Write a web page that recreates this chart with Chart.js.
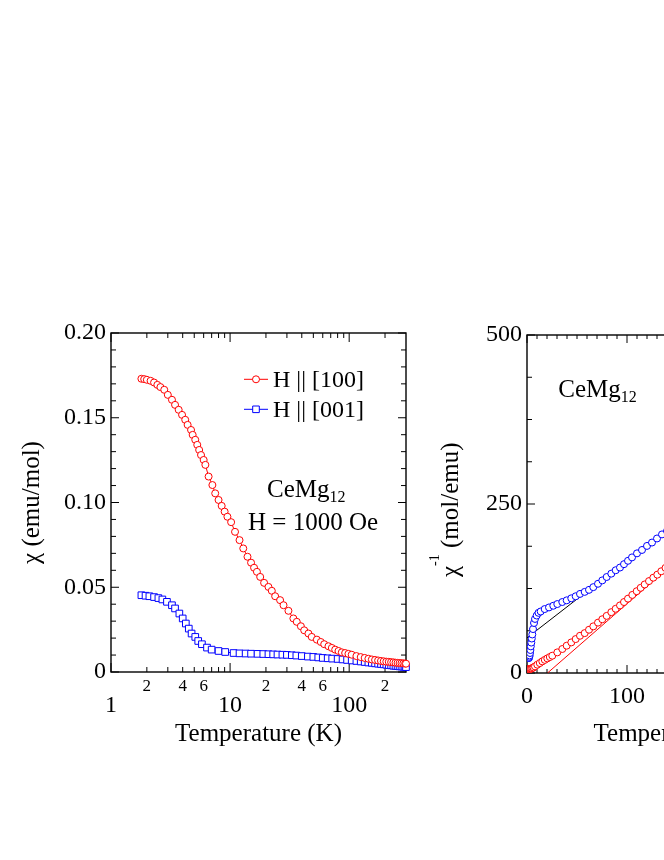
<!DOCTYPE html>
<html>
<head>
<meta charset="utf-8">
<script src="https://cdn.jsdelivr.net/npm/chart.js@4.4.1/dist/chart.umd.min.js"></script>
<style>
  html, body { margin: 0; padding: 0; background: #fff; }
  #page { position: relative; width: 664px; height: 860px; overflow: hidden; }
  #left { position: absolute; left: 0; top: 300px; }
  #right { position: absolute; left: 420px; top: 300px; }
</style>
</head>
<body>
<div id="page">
  <canvas id="left" width="420" height="460"></canvas>
  <canvas id="right" width="460" height="460"></canvas>
</div>
<script>
const serif = '"Liberation Serif", "Times New Roman", serif';
Chart.defaults.font.family = serif;
Chart.defaults.color = "#000";

// left panel: chi (emu/mol) vs T (K), log T
const tempA = [1.8, 1.9, 2.0, 2.15, 2.3, 2.45, 2.6, 2.8, 3.0, 3.25,
  3.45, 3.7, 3.95, 4.2, 4.4, 4.7, 4.85, 5.1, 5.3, 5.5,
  5.7, 6.0, 6.2, 6.6, 7.1, 7.5, 8.0, 8.5, 9.0, 9.5,
  10.2, 11, 12, 12.9, 14, 15, 15.9, 16.8, 17.9, 19.3,
  21, 22.4, 23.9, 26.3, 28.1, 30.9, 34, 36.3, 39.3, 41.9,
  45.5, 48.5, 53.5, 57.8, 61.7, 67, 71.5, 76.3, 81.3, 86.7,
  92.5, 98.6, 105, 115, 125, 135, 145, 155, 165, 175,
  185, 195, 205, 215, 225, 235, 245, 255, 265, 275,
  285, 295, 300];
const chiA = [0.173, 0.1728, 0.1724, 0.1718, 0.1708, 0.1694, 0.1681, 0.1665, 0.1635, 0.1606,
  0.1576, 0.1547, 0.1517, 0.1488, 0.1458, 0.1428, 0.1399, 0.137, 0.134, 0.131,
  0.128, 0.1251, 0.1222, 0.1153, 0.1103, 0.1054, 0.1015, 0.098, 0.0946, 0.0916,
  0.0884, 0.0827, 0.0778, 0.0729, 0.068, 0.0645, 0.0615, 0.0591, 0.0561, 0.0526,
  0.0502, 0.0479, 0.0447, 0.0424, 0.0394, 0.0361, 0.0316, 0.0296, 0.027, 0.0246,
  0.0227, 0.0207, 0.0191, 0.0177, 0.0164, 0.0152, 0.0142, 0.0132, 0.0124, 0.0116,
  0.0112, 0.0107, 0.0102, 0.0094, 0.0088, 0.0083, 0.0078, 0.0074, 0.0071, 0.0068,
  0.0065, 0.0063, 0.0061, 0.0060, 0.0058, 0.0057, 0.0055, 0.0054, 0.0053, 0.0052,
  0.0051, 0.0050, 0.0049];

const tempB = [1.8, 1.95, 2.1, 2.3, 2.5, 2.7, 2.95, 3.25, 3.45, 3.75,
  4.0, 4.25, 4.5, 4.75, 5.1, 5.4, 5.8, 6.4, 7.0, 8.0,
  9.1, 10.7, 12, 13.5, 15, 17, 19, 21, 23, 25,
  27.5, 30, 33, 36, 40, 45, 50, 55, 60, 66,
  72, 80, 88, 96, 105, 115, 125, 135, 145, 155,
  165, 175, 185, 195, 205, 215, 225, 235, 245, 255,
  265, 275, 285, 295, 300];
const chiB = [0.0453, 0.0450, 0.0447, 0.0442, 0.0436, 0.0428, 0.0414, 0.0394, 0.0375, 0.0345,
  0.0316, 0.0286, 0.0256, 0.0227, 0.0207, 0.0183, 0.0164, 0.0144, 0.0132, 0.0124,
  0.0118, 0.0112, 0.0110, 0.0109, 0.0108, 0.0107, 0.0106, 0.0105, 0.0104, 0.0103,
  0.0102, 0.0101, 0.0099, 0.0097, 0.0094, 0.0091, 0.0089, 0.0086, 0.0083, 0.0081,
  0.0079, 0.0077, 0.0074, 0.0071, 0.0068, 0.0065, 0.0062, 0.0059, 0.0056, 0.0054,
  0.0051, 0.0049, 0.0047, 0.0045, 0.0043, 0.0041, 0.0039, 0.0037, 0.0036, 0.0035,
  0.0033, 0.0032, 0.0031, 0.0030, 0.0029];

// right panel: 1/chi (mol/emu) vs T (K)
const tempInvA = [1.8, 2.5, 3.3, 4.2, 5.3, 6.5, 8.0, 10.3, 12.8, 15.3,
  17.8, 20.3, 22.8, 25.3, 30.3, 35.3, 39.7, 44.3, 48.7, 53,
  57.7, 62, 66.3, 71, 75.3, 79.7, 84.3, 88.7, 93, 97,
  101, 105.3, 109.7, 113.7, 117.7, 122, 126.3, 130.3, 134.3, 138.5,
  143];
const invA = [5.8, 5.9, 6.1, 6.5, 7.3, 8.2, 9.8, 12.3, 14.7, 17.2,
  19.4, 21.6, 23.6, 25.6, 30.5, 35.5, 40.4, 45.3, 50.2, 55.1,
  59, 64, 69, 74.5, 79.5, 84.5, 90, 95, 100, 105,
  110, 115.5, 121, 126, 131, 136, 141, 145.5, 150.5, 155.5,
  161];

const tempInvB = [1.8, 2.0, 2.3, 2.6, 3.0, 3.4, 3.8, 4.3, 4.8, 5.3,
  6.0, 7.0, 8.0, 9.7, 11.5, 13.7, 17.7, 22, 26.3, 30.3,
  35.3, 39.7, 44.3, 48.7, 53, 57.7, 62, 66.3, 71, 75.3,
  79.7, 84.3, 88.7, 93, 97, 101, 105, 110, 115, 120,
  125, 130, 135, 140, 145];
const invB = [22, 22.5, 24, 26, 29.6, 34, 39.4, 45, 51, 57,
  65, 74, 80, 85, 89, 91, 94.6, 97, 99.5, 102,
  105, 107.5, 110.5, 113.5, 117, 120, 123, 127, 132, 137,
  142, 147, 152, 156, 161, 166, 171, 177, 182, 188,
  193, 199, 205, 210, 216];

// Curie-Weiss fit lines
const fitTempA = [20.5, 300];
const fitInvA = [0, 360];
const fitTempB = [0, 300];
const fitInvB = [52, 396];

const seriesNames = ["H || [100]", "H || [001]"];
const chiTicks = [0, 0.05, 0.1, 0.15, 0.2];
const tempMajor = [1, 10, 100];
const tempMinorLabels = [2, 4, 6, 20, 40, 60, 200];
const invTicks = [0, 250, 500];
const linTempTicks = [0, 100, 200, 300];

const red = "#ff0000";
const blue = "#0000ff";

const pts = (xs, ys) => xs.map((x, i) => ({ x: x, y: ys[i] }));

// 20 -> "2", 200 -> "2"
const mantissa = (v) => String(Math.round(v / Math.pow(10, Math.floor(Math.log10(v) + 1e-9))));

function frame(chart, xMarks, yMarks) {
  const { ctx, chartArea: a } = chart;
  const xs = chart.scales.x;
  const ys = chart.scales.y;
  ctx.save();
  ctx.strokeStyle = "#000";
  ctx.lineWidth = 1;
  ctx.beginPath();
  xMarks.forEach(([v, len]) => {
    const px = xs.getPixelForValue(v);
    ctx.moveTo(px, a.bottom);
    ctx.lineTo(px, a.bottom - len);
    ctx.moveTo(px, a.top);
    ctx.lineTo(px, a.top + len);
  });
  yMarks.forEach(([v, len]) => {
    const py = ys.getPixelForValue(v);
    ctx.moveTo(a.left, py);
    ctx.lineTo(a.left + len, py);
    ctx.moveTo(a.right, py);
    ctx.lineTo(a.right - len, py);
  });
  ctx.stroke();
  ctx.lineWidth = 1.4;
  ctx.strokeRect(a.left, a.top, a.right - a.left, a.bottom - a.top);
  ctx.restore();
}

function marker(ctx, style, x, y, color) {
  ctx.beginPath();
  if (style === "circle") ctx.arc(x, y, 3.5, 0, Math.PI * 2);
  else ctx.rect(x - 3.3, y - 3.3, 6.6, 6.6);
  ctx.fillStyle = "#fff";
  ctx.fill();
  ctx.strokeStyle = color;
  ctx.lineWidth = 1;
  ctx.stroke();
}

function formula(ctx, x, y, size) {
  ctx.font = size + "px " + serif;
  ctx.fillText("CeMg", x, y);
  const w = ctx.measureText("CeMg").width;
  ctx.font = "16px " + serif;
  ctx.fillText("12", x + w, y + 5);
}

// minor/major tick marks drawn inside the frame
const logMarks = [];
[1, 10, 100].forEach((d) => {
  for (let k = 1; k <= 9; k++) {
    if (k * d < 300) logMarks.push([k * d, k === 1 ? 9 : 5]);
  }
});
const chiMarks = [];
for (let i = 0; i <= 20; i++) chiMarks.push([i / 100, i % 5 === 0 ? 8 : 5]);
const linMarks = [];
for (let i = 0; i <= 30; i++) linMarks.push([i * 10, i % 10 === 0 ? 8 : 4]);
const invMarks = [];
for (let i = 0; i <= 8; i++) invMarks.push([i * 62.5, i % 4 === 0 ? 8 : 5]);

const leftDecor = {
  id: "leftDecor",
  beforeDatasetsDraw(chart) {
    frame(chart, logMarks, chiMarks);
  },
  afterDraw(chart) {
    const ctx = chart.ctx;
    ctx.save();
    const rows = [79.3, 109.3];
    const styles = ["circle", "rect"];
    const colors = [red, blue];
    rows.forEach((y, i) => {
      ctx.strokeStyle = colors[i];
      ctx.lineWidth = 1;
      ctx.beginPath();
      ctx.moveTo(244, y);
      ctx.lineTo(268, y);
      ctx.stroke();
      marker(ctx, styles[i], 256, y, colors[i]);
      ctx.fillStyle = "#000";
      ctx.font = "24px " + serif;
      ctx.textBaseline = "alphabetic";
      ctx.fillText(seriesNames[i], 273, y + 7.5);
    });
    ctx.fillStyle = "#000";
    formula(ctx, 267, 196.7, 25);
    ctx.font = "25px " + serif;
    ctx.fillText("H = 1000 Oe", 248, 230);
    ctx.restore();
  }
};

const rightDecor = {
  id: "rightDecor",
  beforeDatasetsDraw(chart) {
    frame(chart, linMarks, invMarks);
  },
  afterDraw(chart) {
    const ctx = chart.ctx;
    ctx.save();
    ctx.fillStyle = "#000";
    ctx.textBaseline = "alphabetic";
    formula(ctx, 138.3, 97.3, 25);
    // rotated y title with superscript
    ctx.translate(38, 277);
    ctx.rotate(-Math.PI / 2);
    ctx.font = "25px " + serif;
    ctx.fillText("\u03c7", 0, 0);
    let w = ctx.measureText("\u03c7").width;
    ctx.font = "14px " + serif;
    ctx.fillText("-1", w, -19);
    w += ctx.measureText("-1").width;
    ctx.font = "25px " + serif;
    ctx.fillText(" (mol/emu)", w, 0);
    ctx.restore();
  }
};

const noGrid = { display: false, drawTicks: false };
const noBorder = { display: false };

new Chart(document.getElementById("left"), {
  type: "scatter",
  data: {
    datasets: [
      {
        label: seriesNames[0],
        data: pts(tempA, chiA),
        showLine: true,
        borderColor: red,
        borderWidth: 1,
        pointStyle: "circle",
        pointRadius: 3.5,
        pointBorderWidth: 1,
        pointBorderColor: red,
        pointBackgroundColor: "#fff",
        clip: false
      },
      {
        label: seriesNames[1],
        data: pts(tempB, chiB),
        showLine: true,
        borderColor: blue,
        borderWidth: 1,
        pointStyle: "rect",
        pointRadius: 4.7,
        pointBorderWidth: 1,
        pointBorderColor: blue,
        pointBackgroundColor: "#fff",
        clip: false
      }
    ]
  },
  options: {
    responsive: false,
    animation: false,
    layout: { padding: { top: 33, right: 14, left: 0, bottom: 0 } },
    plugins: { legend: { display: false }, tooltip: { enabled: false } },
    scales: {
      x: {
        type: "logarithmic",
        min: 1,
        max: 300,
        weight: 0,
        grid: noGrid,
        border: noBorder,
        afterBuildTicks: (s) => { s.ticks = tempMinorLabels.map((v) => ({ value: v })); },
        afterFit: (s) => { s.height = 19; },
        ticks: { autoSkip: false, maxRotation: 0, padding: 4, font: { size: 17 }, callback: (v) => mantissa(v) }
      },
      x2: {
        type: "logarithmic",
        position: "bottom",
        min: 1,
        max: 300,
        weight: 1,
        grid: noGrid,
        border: noBorder,
        afterBuildTicks: (s) => { s.ticks = tempMajor.map((v) => ({ value: v })); },
        afterFit: (s) => { s.height = 69; },
        ticks: { autoSkip: false, maxRotation: 0, padding: 0, font: { size: 24 }, callback: (v) => String(v) },
        title: { display: true, text: "Temperature (K)", font: { size: 25 }, padding: { top: 0, bottom: 11 } }
      },
      y: {
        min: 0,
        max: 0.2,
        grid: noGrid,
        border: noBorder,
        afterBuildTicks: (s) => { s.ticks = chiTicks.map((v) => ({ value: v })); },
        afterFit: (s) => { s.width = 111; },
        ticks: { padding: 5, font: { size: 24 }, callback: (v) => (v === 0 ? "0" : v.toFixed(2)) },
        title: { display: true, text: "\u03c7 (emu/mol)", font: { size: 25 }, padding: { top: 17, bottom: 0 } }
      }
    }
  },
  plugins: [leftDecor]
});

new Chart(document.getElementById("right"), {
  type: "scatter",
  data: {
    datasets: [
      {
        data: pts(tempInvA, invA),
        showLine: true,
        borderColor: red,
        borderWidth: 1,
        pointStyle: "circle",
        pointRadius: 3.5,
        pointBorderWidth: 1,
        pointBorderColor: red,
        pointBackgroundColor: "#fff"
      },
      {
        data: pts(tempInvB, invB),
        showLine: true,
        borderColor: blue,
        borderWidth: 1,
        pointStyle: "circle",
        pointRadius: 3.5,
        pointBorderWidth: 1,
        pointBorderColor: blue,
        pointBackgroundColor: "#fff"
      },
      {
        data: pts(fitTempA, fitInvA),
        showLine: true,
        borderColor: red,
        borderWidth: 1,
        pointRadius: 0
      },
      {
        data: pts(fitTempB, fitInvB),
        showLine: true,
        borderColor: "#000",
        borderWidth: 1,
        pointRadius: 0
      }
    ]
  },
  options: {
    responsive: false,
    animation: false,
    layout: { padding: { top: 35, right: 53, left: 0, bottom: 0 } },
    plugins: { legend: { display: false }, tooltip: { enabled: false } },
    scales: {
      x: {
        min: 0,
        max: 300,
        grid: noGrid,
        border: noBorder,
        afterBuildTicks: (s) => { s.ticks = linTempTicks.map((v) => ({ value: v })); },
        afterFit: (s) => { s.height = 87; },
        ticks: { autoSkip: false, maxRotation: 0, padding: 9, font: { size: 24 }, callback: (v) => String(v) },
        title: { display: true, text: "Temperature (K)", font: { size: 25 }, padding: { top: 0, bottom: 11 } }
      },
      y: {
        min: 0,
        max: 500,
        grid: noGrid,
        border: noBorder,
        afterBuildTicks: (s) => { s.ticks = invTicks.map((v) => ({ value: v })); },
        afterFit: (s) => { s.width = 107; },
        ticks: { padding: 5, font: { size: 24 }, callback: (v) => String(v) }
      }
    }
  },
  plugins: [rightDecor]
});
</script>
</body>
</html>
